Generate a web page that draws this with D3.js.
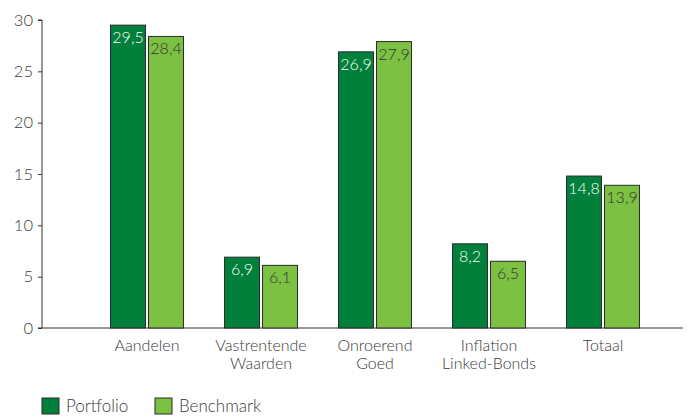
<!DOCTYPE html>
<html>
<head>
<meta charset="utf-8">
<script src="https://cdn.jsdelivr.net/npm/d3@7"></script>
<style>
  body { margin: 0; background: #fff; }
  svg text { font-family: Lato, "Open Sans", sans-serif; font-weight: 300; fill: #3a3a3a; }
</style>
</head>
<body>
<svg id="chart"></svg>
<script>
const WIDTH = 687;
const HEIGHT = 416;

const categories = [['Aandelen'], ['Vastrentende', 'Waarden'], ['Onroerend', 'Goed'], ['Inflation', 'Linked-Bonds'], ['Totaal']];
const seriesNames = ['Portfolio', 'Benchmark'];
const portfolio = [29.5, 6.9, 26.9, 8.2, 14.8];
const benchmark = [28.4, 6.1, 27.9, 6.5, 13.9];
const yTicks = [0, 5, 10, 15, 20, 25, 30];
const colors = ['#00803a', '#7cc142'];
const labelColors = ['#ffffff', '#333333'];

const svg = d3.select('#chart').attr('width', WIDTH).attr('height', HEIGHT);

const catKeys = categories.map(c => c.join(' '));
const x0 = d3.scaleBand().domain(catKeys).range([90, 660]).paddingInner(0.36).paddingOuter(0.18);
const x1 = d3.scaleBand().domain(seriesNames).range([0, x0.bandwidth()]).paddingInner(0.08);
const y = d3.scaleLinear().domain([0, 30]).range([328, 20]);

// y axis
const yAxis = svg.append('g').attr('transform', 'translate(42,0)')
  .call(d3.axisLeft(y).tickValues(yTicks).tickSize(4).tickPadding(5));
yAxis.select('.domain').attr('stroke', '#333').attr('d', `M-4,${y(30)}H0V${y(0)}`);
yAxis.selectAll('.tick line').attr('stroke', '#333');
yAxis.selectAll('.tick text').style('font-size', '16.5px').attr('fill', '#3a3a3a');

// x baseline
svg.append('line').attr('x1', 38).attr('x2', 683).attr('y1', y(0)).attr('y2', y(0))
  .attr('stroke', '#333').attr('stroke-width', 1.2);

// bars
const data = catKeys.map((k, i) => ({key: k, values: [portfolio[i], benchmark[i]]}));
const groups = svg.selectAll('.grp').data(data).enter().append('g')
  .attr('transform', d => `translate(${x0(d.key)},0)`);

groups.selectAll('rect').data(d => d.values.map((v, j) => ({s: seriesNames[j], v, j})))
  .enter().append('rect')
  .attr('x', d => x1(d.s)).attr('width', x1.bandwidth())
  .attr('y', d => y(d.v)).attr('height', d => y(0) - y(d.v))
  .attr('fill', d => colors[d.j]).attr('stroke', '#2b2b2b').attr('stroke-width', 1);

groups.selectAll('.val').data(d => d.values.map((v, j) => ({s: seriesNames[j], v, j})))
  .enter().append('text')
  .attr('x', d => x1(d.s) + x1.bandwidth() / 2)
  .attr('y', d => y(d.v) + 18)
  .attr('text-anchor', 'middle').style('font-size', '16px')
  .style('fill', d => labelColors[d.j])
  .text(d => d3.format('.1f')(d.v).replace('.', ','));

// category labels
const catLabels = svg.selectAll('.cat').data(categories).enter().append('text')
  .attr('text-anchor', 'middle').style('font-size', '16px')
  .attr('transform', (d, i) => `translate(${x0(catKeys[i]) + x0.bandwidth() / 2},351)`);
catLabels.selectAll('tspan').data(d => d).enter().append('tspan')
  .attr('x', 0).attr('dy', (d, i) => i === 0 ? 0 : 18).text(d => d);

// legend
const legendX = [42, 155];
const legend = svg.selectAll('.leg').data(seriesNames).enter().append('g')
  .attr('transform', (d, i) => `translate(${legendX[i]},398)`);
legend.append('rect').attr('width', 17).attr('height', 16)
  .attr('fill', (d, i) => colors[i]).attr('stroke', '#2b2b2b');
legend.append('text').attr('x', 24).attr('y', 14).style('font-size', '17px').text(d => d);
</script>
</body>
</html>
